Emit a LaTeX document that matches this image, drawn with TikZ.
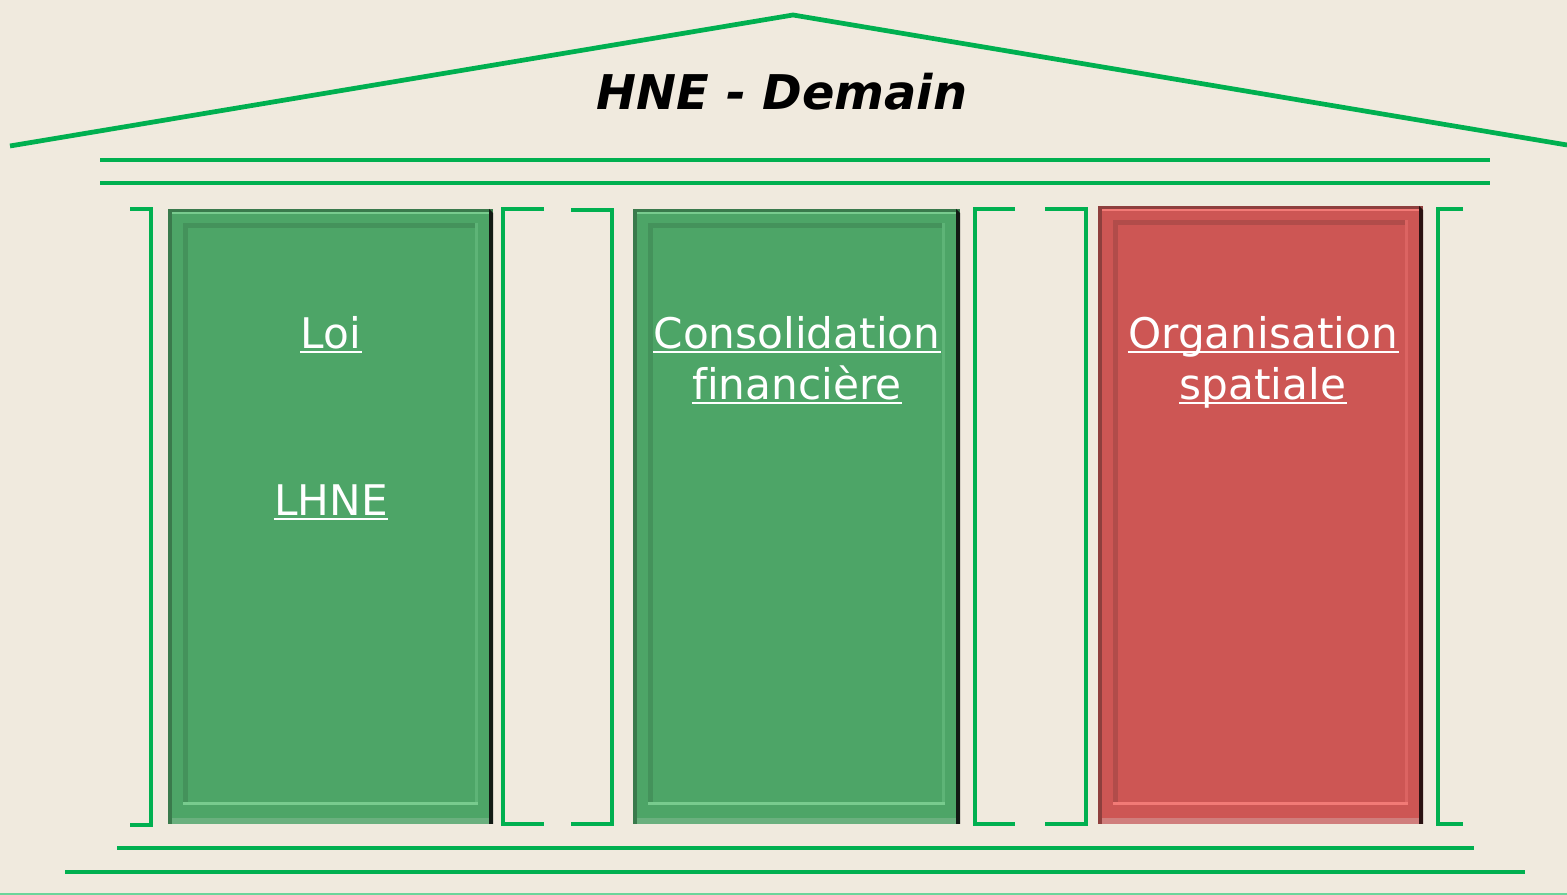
\documentclass[tikz,border=0pt]{standalone}
\usepackage{fontspec}
\setmainfont{DejaVu Sans}[Ligatures=CommonOff]
\definecolor{bg}{HTML}{F0EADE}
\definecolor{lgreen}{HTML}{00B050}
\definecolor{thin}{HTML}{6BD49A}
\definecolor{gbase}{HTML}{4DA567}
\definecolor{gdark}{HTML}{3A7A4C}
\definecolor{glight}{HTML}{78CB8E}
\definecolor{gbot}{HTML}{6AB07E}
\definecolor{gshad}{HTML}{121A14}
\definecolor{rbase}{HTML}{CD5654}
\definecolor{rdark}{HTML}{8E3F3D}
\definecolor{rlight}{HTML}{F27A76}
\definecolor{rbot}{HTML}{D07E7C}
\definecolor{rshad}{HTML}{2A1212}
\newcommand\pillarbody[9]{%
  \fill[#5] (#1,#2) rectangle (#3,#4);
  \fill[#6] (#1,#2) rectangle (#1+4,#4);
  \fill[#6] (#1,#2) rectangle (#3,#2+3);
  \fill[#7] (#1+4,#2+3) rectangle (#3-4,#2+5);
  \fill[#8] (#1+4,#4-6) rectangle (#3,#4);
  \fill[#6!45!#5] (#1+15,#2+14) rectangle (#3-15,#2+19);
  \fill[#6!45!#5] (#1+15,#2+14) rectangle (#1+20,#4-19);
  \fill[#7!40!#5] (#3-18,#2+14) rectangle (#3-15,#4-19);
  \fill[#7] (#1+15,#4-22) rectangle (#3-15,#4-19);
  \fill[#9] (#3-4,#2) -- (#3,#2+4) -- (#3,#4) -- (#3-4,#4) -- cycle;
}
\newcommand\ulnode[1]{%
  \draw[draw=white,line width=0.6pt] ([yshift=-0.95pt]#1.base west) -- ([yshift=-0.95pt]#1.base east);
}
\begin{document}
\begin{tikzpicture}[x=0.01cm,y=-0.01cm,
  gline/.style={draw=lgreen,line width=1.35pt},
  ptext/.style={text=white,font=\fontsize{12pt}{14pt}\selectfont,anchor=base,inner sep=0pt},
  ttext/.style={font=\fontsize{13.6pt}{16pt}\selectfont\bfseries\itshape,anchor=base,inner sep=0pt}]
\fill[bg] (0,0) rectangle (1567,895);
\useasboundingbox (0,0) rectangle (1567,895);
% roof
\coordinate (roofL) at (10,146);
\coordinate (roofT) at (793,15);
\coordinate (roofR) at (1567,145);
\draw[gline] (roofL) -- (roofT) -- (roofR);
\node[ttext] (title) at (782,110) {HNE - Demain};
% entablature
\draw[gline] (100,160) -- (1490,160);
\draw[gline] (100,183) -- (1490,183);
% base
\draw[gline] (117,848) -- (1474,848);
\draw[gline] (65,872) -- (1525,872);
\draw[draw=thin,line width=0.45pt] (0,894) -- (1567,894);
% pillars
\pillarbody{168}{209}{493}{824}{gbase}{gdark}{glight}{gbot}{gshad}
\pillarbody{633}{209}{960}{824}{gbase}{gdark}{glight}{gbot}{gshad}
\pillarbody{1098}{206}{1423}{824}{rbase}{rdark}{rlight}{rbot}{rshad}
% brackets
\draw[gline] (130,209) -- (151,209) -- (151,825) -- (130,825);
\draw[gline] (544,209) -- (503,209) -- (503,824) -- (544,824);
\draw[gline] (571,210) -- (612,210) -- (612,824) -- (571,824);
\draw[gline] (1015,209) -- (975,209) -- (975,824) -- (1015,824);
\draw[gline] (1045,209) -- (1086,209) -- (1086,824) -- (1045,824);
\draw[gline] (1463,209) -- (1438,209) -- (1438,824) -- (1463,824);
% texts
\node[ptext] (loi) at (331,349) {Loi};
\node[ptext] (lhne) at (331,516) {LHNE};
\node[ptext] (cons) at (797,349) {Consolidation};
\node[ptext] (fin) at (797,400) {financière};
\node[ptext] (org) at (1263,349) {Organisation};
\node[ptext] (spa) at (1263,400) {spatiale};
\ulnode{loi}\ulnode{lhne}\ulnode{cons}\ulnode{fin}\ulnode{org}\ulnode{spa}
\end{tikzpicture}
\end{document}
